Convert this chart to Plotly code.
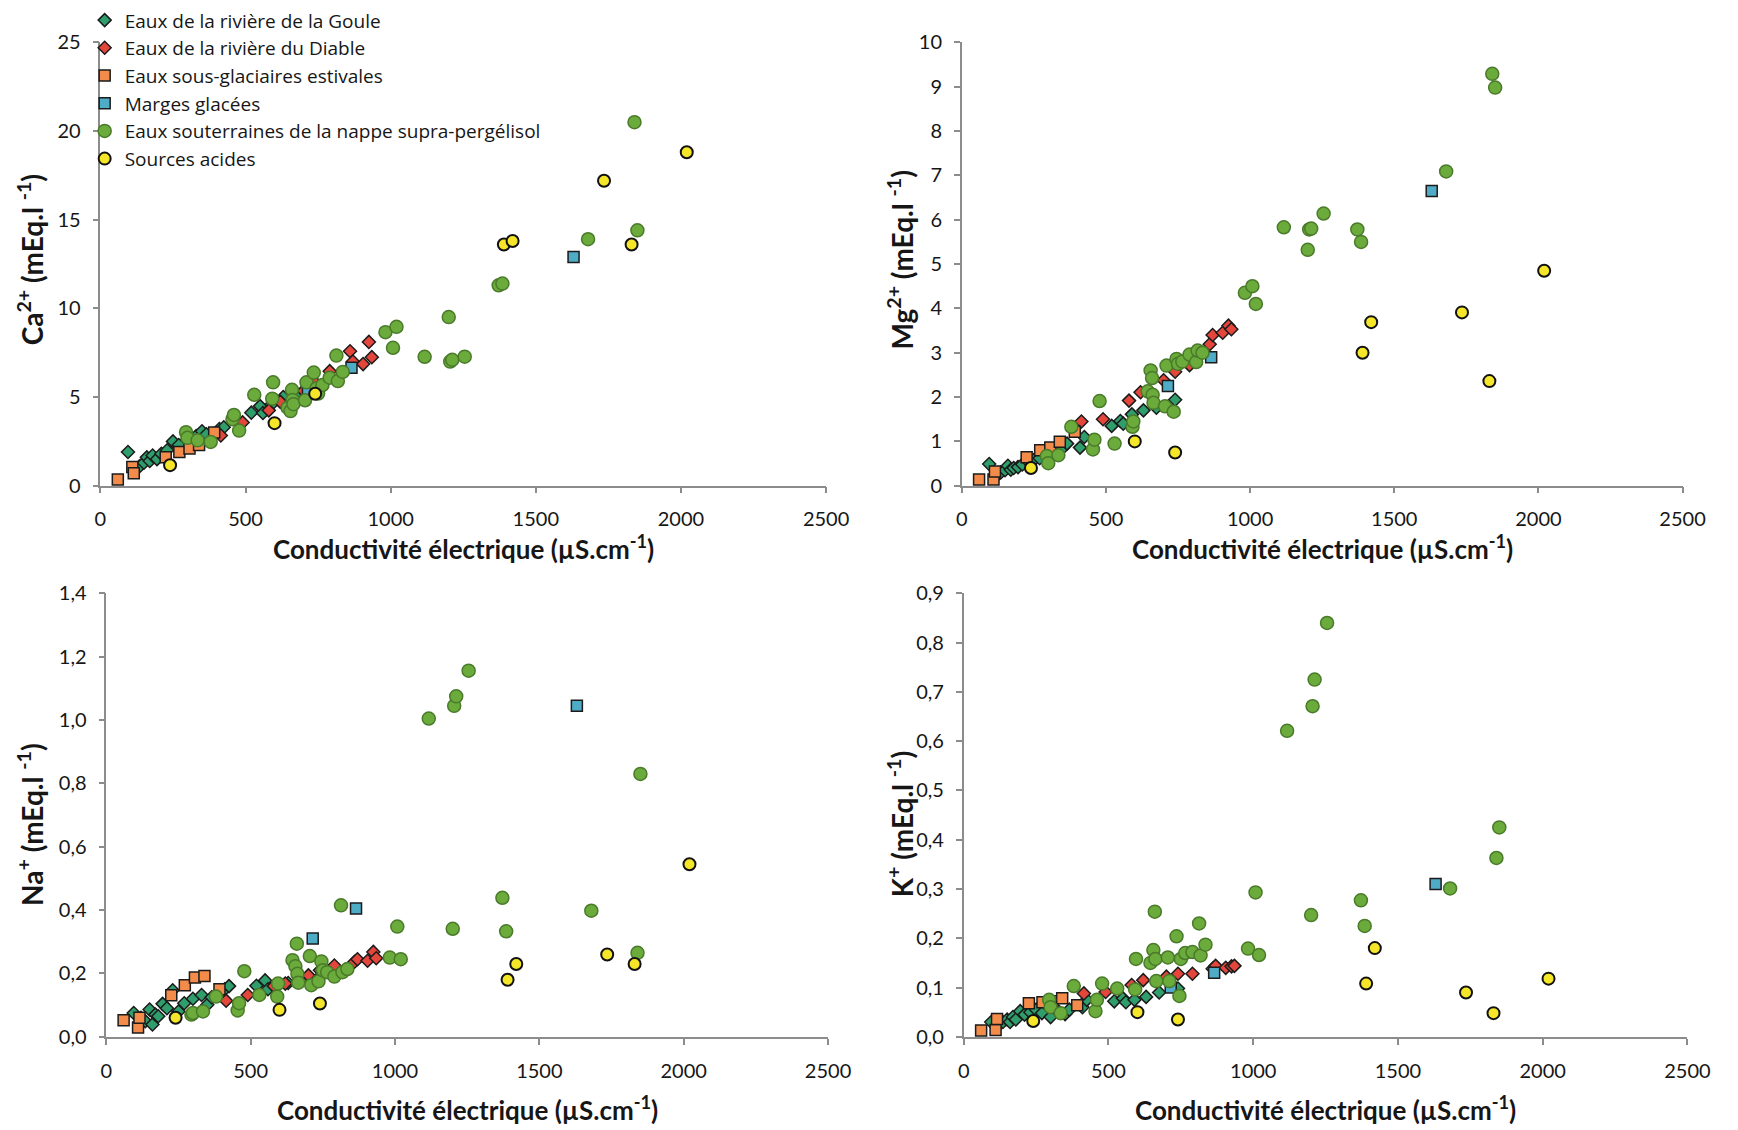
import plotly.graph_objects as go

# ---------------- DATA ----------------
# Eaux de la rivière de la Goule
goule_ce = [95, 120, 135, 150, 160, 170, 180, 195, 210, 230, 250, 270, 300, 330, 350, 365, 410, 425, 520, 550, 560, 590, 630, 675, 740]
goule_ca = [1.9, 0.9, 1.1, 1.3, 1.6, 1.4, 1.7, 1.5, 1.8, 2.0, 2.5, 2.3, 2.6, 2.8, 3.07, 2.9, 3.2, 3.3, 4.12, 4.49, 4.1, 4.6, 5.0, 5.2, 5.6]
goule_mg = [0.49, 0.22, 0.3, 0.35, 0.45, 0.36, 0.4, 0.42, 0.48, 0.55, 0.58, 0.62, 0.7, 0.78, 0.85, 0.95, 0.86, 1.1, 1.35, 1.46, 1.4, 1.61, 1.7, 1.76, 1.94]
goule_na = [0.075, 0.06, 0.049, 0.086, 0.039, 0.07, 0.065, 0.104, 0.09, 0.147, 0.08, 0.106, 0.12, 0.132, 0.101, 0.125, 0.15, 0.16, 0.161, 0.178, 0.15, 0.16, 0.17, 0.18, 0.19]
goule_k = [0.03, 0.025, 0.03, 0.035, 0.03, 0.04, 0.035, 0.052, 0.045, 0.05, 0.055, 0.048, 0.04, 0.05, 0.046, 0.055, 0.06, 0.075, 0.072, 0.078, 0.07, 0.075, 0.081, 0.09, 0.098]

# Eaux de la rivière du Diable
diable_ce = [415, 490, 580, 620, 700, 740, 790, 860, 870, 905, 925, 935]
diable_ca = [2.83, 3.57, 4.25, 4.73, 5.35, 5.8, 6.46, 7.58, 7.0, 6.86, 8.11, 7.25]
diable_mg = [1.45, 1.5, 1.92, 2.11, 2.38, 2.57, 2.72, 3.19, 3.4, 3.45, 3.61, 3.53]
diable_na = [0.114, 0.132, 0.16, 0.168, 0.194, 0.21, 0.225, 0.237, 0.245, 0.24, 0.268, 0.248]
diable_k = [0.088, 0.091, 0.105, 0.115, 0.122, 0.128, 0.128, 0.138, 0.144, 0.14, 0.143, 0.144]

# Eaux sous-glaciaires estivales
sousgl_ce = [60, 110, 115, 225, 272, 307, 340, 392]
sousgl_ca = [0.35, 1.05, 0.7, 1.6, 1.9, 2.1, 2.3, 3.0]
sousgl_mg = [0.14, 0.14, 0.32, 0.64, 0.8, 0.86, 0.99, 1.22]
sousgl_na = [0.052, 0.029, 0.06, 0.131, 0.163, 0.187, 0.192, 0.15]
sousgl_k = [0.013, 0.014, 0.036, 0.068, 0.07, 0.072, 0.078, 0.064]

# Marges glacées
marges_ce = [715, 865, 1630]
marges_ca = [5.4, 6.65, 12.9]
marges_mg = [2.25, 2.9, 6.65]
marges_na = [0.31, 0.405, 1.045]
marges_k = [0.1, 0.13, 0.31]

# Eaux souterraines de la nappe supra-pergélisol
nappe_ce = [295, 300, 335, 380, 455, 460, 478, 530, 592, 595, 645, 655, 660, 662, 665, 705, 710, 735, 745, 750,
            765, 790, 813, 818, 835, 982, 1008, 1020, 1117, 1200, 1205, 1212, 1255, 1372, 1385, 1680, 1840, 1850]
nappe_ca = [3.02, 2.7, 2.56, 2.47, 3.75, 3.99, 3.11, 5.13, 4.91, 5.83, 4.4, 4.21, 5.41, 4.84, 4.6, 4.82, 5.83, 6.38, 5.5, 5.2,
            5.68, 6.09, 7.34, 5.9, 6.42, 8.66, 7.78, 8.96, 7.27, 9.51, 7.0, 7.1, 7.28, 11.3, 11.4, 13.9, 20.5, 14.4]
nappe_mg = [0.67, 0.51, 0.69, 1.33, 0.82, 1.04, 1.91, 0.95, 1.33, 1.45, 2.13, 2.6, 2.43, 2.05, 1.87, 1.79, 2.71, 1.67, 2.86, 2.75,
            2.8, 2.96, 2.79, 3.05, 3.0, 4.35, 4.5, 4.1, 5.83, 5.32, 5.78, 5.8, 6.14, 5.78, 5.5, 7.09, 9.29, 8.98]
nappe_na = [0.07, 0.075, 0.08, 0.127, 0.083, 0.106, 0.207, 0.132, 0.127, 0.168, 0.242, 0.223, 0.294, 0.199, 0.171, 0.255, 0.163, 0.175, 0.238, 0.21,
            0.204, 0.19, 0.415, 0.204, 0.214, 0.25, 0.348, 0.245, 1.005, 0.341, 1.045, 1.075, 1.156, 0.439, 0.333, 0.398, 0.265, 0.83]
nappe_k = [0.075, 0.06, 0.048, 0.103, 0.052, 0.075, 0.108, 0.098, 0.096, 0.158, 0.15, 0.176, 0.254, 0.158, 0.113, 0.161, 0.113, 0.204, 0.083, 0.158,
           0.17, 0.172, 0.23, 0.165, 0.187, 0.179, 0.293, 0.166, 0.621, 0.247, 0.671, 0.725, 0.84, 0.277, 0.225, 0.301, 0.363, 0.425]

# Sources acides
acides_ce = [240, 600, 740, 1390, 1420, 1735, 1830, 2020]
acides_ca = [1.16, 3.53, 5.19, 13.6, 13.8, 17.2, 13.6, 18.8]
acides_mg = [0.4, 1.0, 0.75, 3.0, 3.69, 3.91, 2.36, 4.85]
acides_na = [0.06, 0.085, 0.105, 0.18, 0.23, 0.26, 0.23, 0.545]
acides_k = [0.032, 0.05, 0.035, 0.108, 0.18, 0.09, 0.048, 0.118]

series_names = ["Eaux de la rivière de la Goule", "Eaux de la rivière du Diable",
                "Eaux sous-glaciaires estivales", "Marges glacées",
                "Eaux souterraines de la nappe supra-pergélisol", "Sources acides"]

x_title = "Conductivité électrique (µS.cm<sup>-1</sup>)"
y_titles = ["Ca<sup>2+</sup> (mEq.l <sup>-1</sup>)", "Mg<sup>2+</sup> (mEq.l <sup>-1</sup>)",
            "Na<sup>+</sup> (mEq.l <sup>-1</sup>)", "K<sup>+</sup> (mEq.l <sup>-1</sup>)"]

# ---------------- STYLES ----------------
styles = [
    dict(symbol="diamond", size=10, color="#2f9e6c", line=dict(color="#1b1b1b", width=1.5)),
    dict(symbol="diamond", size=10, color="#e4463c", line=dict(color="#1b1b1b", width=1.5)),
    dict(symbol="square", size=11, color="#f38b4a", line=dict(color="#1b1b1b", width=1.5)),
    dict(symbol="square", size=11, color="#4eacc7", line=dict(color="#1b1b1b", width=1.5)),
    dict(symbol="circle", size=13, color="#6aab3c", line=dict(color="#4a7a2a", width=1.5)),
    dict(symbol="circle", size=12, color="#f6e62a", line=dict(color="#111111", width=2)),
]

xs = [goule_ce, diable_ce, sousgl_ce, marges_ce, nappe_ce, acides_ce]
ys_by_panel = [
    [goule_ca, diable_ca, sousgl_ca, marges_ca, nappe_ca, acides_ca],
    [goule_mg, diable_mg, sousgl_mg, marges_mg, nappe_mg, acides_mg],
    [goule_na, diable_na, sousgl_na, marges_na, nappe_na, acides_na],
    [goule_k, diable_k, sousgl_k, marges_k, nappe_k, acides_k],
]

W, H = 1738, 1130
# plot areas in pixels: (x0, x1, ytop, ybottom)
areas = [(96, 834, 30, 483), (972, 1705, 30, 483), (102, 836, 593, 1046), (974, 1710, 593, 1046)]
y_ranges = [[0, 25], [0, 10], [0, 1.4], [0, 0.9]]
y_dticks = [5, 1, 0.2, 0.1]
y_formats = ["d", "d", ".1f", ".1f"]
x_title_y = [546, 546, 1119, 1119]
y_title_x = [25, 910, 25, 910]
y_title_y = [252, 252, 829, 829]

FONT = "Lato"
AXCOL = "#8c8c8c"
TXT = "#161616"

fig = go.Figure()
for p in range(4):
    suffix = "" if p == 0 else str(p + 1)
    for s in range(6):
        fig.add_trace(go.Scatter(
            x=xs[s], y=ys_by_panel[p][s], mode="markers", name=series_names[s],
            legendgroup=series_names[s], showlegend=(p == 0),
            marker=styles[s], cliponaxis=False,
            xaxis="x" + suffix, yaxis="y" + suffix,
        ))

layout = dict(
    width=W, height=H, autosize=False,
    margin=dict(l=0, r=0, t=0, b=0),
    paper_bgcolor="white", plot_bgcolor="white",
    separators=", ",
    font=dict(family=FONT, size=19, color=TXT),
    showlegend=True,
    legend=dict(x=80 / W, y=1 + 12 / H, xanchor="left", yanchor="top",
                bgcolor="rgba(255,255,255,0)", font=dict(family="Open Sans", size=19, color=TXT),
                tracegroupgap=0, itemwidth=30),
)
annotations = []
for p, (x0, x1, yt, yb) in enumerate(areas):
    suffix = "" if p == 0 else str(p + 1)
    layout["xaxis" + suffix] = dict(
        domain=[x0 / W, x1 / W], range=[0, 2500], dtick=500, tick0=0,
        anchor="y" + suffix, showgrid=False, zeroline=False,
        showline=True, linecolor=AXCOL, linewidth=1.5,
        ticks="outside", ticklen=6, tickcolor=AXCOL, tickwidth=1.5,
        ticklabelstandoff=9, tickfont=dict(family=FONT, size=20, color=TXT),
    )
    layout["yaxis" + suffix] = dict(
        domain=[1 - yb / H, 1 - yt / H], range=y_ranges[p], dtick=y_dticks[p], tick0=0,
        tickformat=y_formats[p],
        anchor="x" + suffix, showgrid=False, zeroline=False,
        showline=True, linecolor=AXCOL, linewidth=1.5,
        ticks="outside", ticklen=6, tickcolor=AXCOL, tickwidth=1.5,
        ticklabelstandoff=8, tickfont=dict(family=FONT, size=20, color=TXT),
    )
    annotations.append(dict(text="<b>" + x_title + "</b>", xref="paper", yref="paper",
                            x=(x0 + x1) / 2 / W, y=1 - x_title_y[p] / H, xanchor="center", yanchor="middle",
                            showarrow=False, font=dict(family=FONT, size=26, color=TXT)))
    annotations.append(dict(text="<b>" + y_titles[p] + "</b>", xref="paper", yref="paper",
                            x=y_title_x[p] / W, y=1 - y_title_y[p] / H, xanchor="center", yanchor="middle",
                            textangle=-90, showarrow=False,
                            font=dict(family=FONT, size=28, color=TXT)))
layout["annotations"] = annotations
fig.update_layout(**layout)

fig.write_html("out.html", config={"displayModeBar": False},
               post_script="document.body.style.margin='0';")
